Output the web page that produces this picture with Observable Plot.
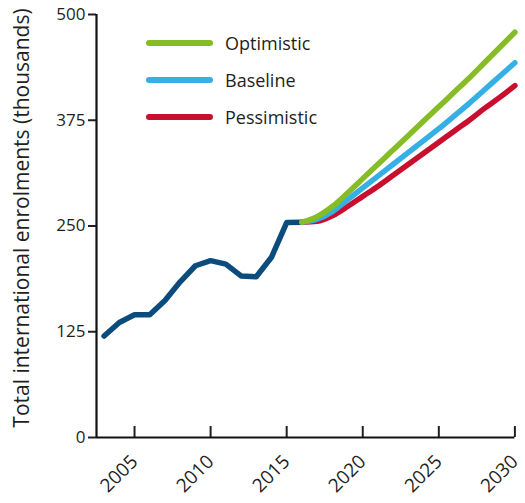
<!DOCTYPE html>
<html>
<head>
<meta charset="utf-8">
<script src="https://cdn.jsdelivr.net/npm/d3@7"></script>
<script src="https://cdn.jsdelivr.net/npm/@observablehq/plot@0.6"></script>
<style>
  html, body { margin: 0; padding: 0; background: #fff; }
  #wrap { position: relative; width: 525px; height: 503px; font-family: "Open Sans", sans-serif; color: #231f20; }
  #legend { position: absolute; left: 146px; top: 24px; }
  .item { display: flex; align-items: center; height: 37px; }
  .sw { width: 67px; height: 6px; border-radius: 3px; margin-right: 12px; }
  .lab { font-size: 18px; line-height: 1; }
</style>
</head>
<body>
<div id="wrap"></div>
<script>
// Historical data
const histYears = [2003, 2004, 2005, 2006, 2007, 2008, 2009, 2010, 2011, 2012, 2013, 2014, 2015, 2016];
const histValues = [120, 136, 145, 145, 162, 184, 203, 209, 205, 191, 190, 213, 254, 254.5];

// Projections
const projYears = [2016, 2017, 2018, 2019, 2020, 2021, 2022, 2023, 2024, 2025, 2026, 2027, 2028, 2029, 2030];
const optimistic = [254.5, 261, 273, 289, 306, 323, 340, 357, 374, 391, 408, 425, 443, 461, 479];
const baseline = [254.5, 258, 267, 281, 295, 309, 323, 337, 351, 365, 380, 395, 411, 427, 443];
const pessimistic = [254.5, 255.5, 262, 273, 285, 297, 310, 323, 336, 349, 362, 375, 389, 402, 416];

const scenarioNames = ["Optimistic", "Baseline", "Pessimistic"];
const scenarioColors = ["#86bc25", "#36b0e4", "#c8102e"];
const histColor = "#0b4c7d";

const xTicks = [2005, 2010, 2015, 2020, 2025, 2030];
const yTicks = [0, 125, 250, 375, 500];
const xDomain = [2002.5, 2030.5];
const yDomain = [0, 500];
const yLabel = "Total international enrolments (thousands)";

const hist = histYears.map((year, i) => ({year, value: histValues[i]}));
const seriesByName = {Optimistic: optimistic, Baseline: baseline, Pessimistic: pessimistic};
// draw order: pessimistic, baseline, optimistic (optimistic on top)
const drawOrder = ["Pessimistic", "Baseline", "Optimistic"];
const proj = drawOrder.flatMap(name => projYears.map((year, i) => ({year, value: seriesByName[name][i], scenario: name})));

const chart = Plot.plot({
  width: 525,
  height: 503,
  marginTop: 14,
  marginBottom: 66,
  marginLeft: 96,
  marginRight: 3,
  x: {domain: xDomain},
  y: {domain: yDomain},
  color: {domain: scenarioNames, range: scenarioColors},
  style: {fontFamily: "'Open Sans', sans-serif", fontSize: "17px", color: "#231f20", background: "white", overflow: "visible"},
  marks: [
    Plot.axisY({ticks: yTicks, tickSize: 8, tickPadding: 3, label: null, strokeWidth: 2, fontSize: 17, tickFormat: d => String(d)}),
    Plot.axisX({ticks: xTicks, tickSize: 11, dy: -11, tickFormat: () => "", label: null, strokeWidth: 2}),
    Plot.axisX({ticks: xTicks, tickSize: 0, tickRotate: -45, tickPadding: 21, tickFormat: d => String(d), label: null, fontSize: 19}),
    Plot.ruleX([xDomain[0]], {y1: yDomain[0], y2: yDomain[1], strokeWidth: 2.2, stroke: "#111"}),
    Plot.ruleY([0], {x1: xDomain[0], x2: 2030, strokeWidth: 2.2, stroke: "#111"}),
    Plot.line(hist, {x: "year", y: "value", stroke: histColor, strokeWidth: 5.5, strokeLinejoin: "round", strokeLinecap: "round"}),
    Plot.line(proj, {x: "year", y: "value", z: "scenario", stroke: "scenario", strokeWidth: 5.5, strokeLinejoin: "round", strokeLinecap: "round", curve: "monotone-x"}),
    Plot.text([yLabel], {frameAnchor: "left", textAnchor: "middle", rotate: -90, dx: -74, dy: -8, fontSize: 21, fill: "#231f20"})
  ]
});

const wrap = document.getElementById("wrap");
wrap.appendChild(chart);

const legend = document.createElement("div");
legend.id = "legend";
scenarioNames.forEach((name, i) => {
  const item = document.createElement("div");
  item.className = "item";
  const sw = document.createElement("div");
  sw.className = "sw";
  sw.style.background = scenarioColors[i];
  const lab = document.createElement("span");
  lab.className = "lab";
  lab.textContent = name;
  item.appendChild(sw);
  item.appendChild(lab);
  legend.appendChild(item);
});
wrap.appendChild(legend);
</script>
</body>
</html>
